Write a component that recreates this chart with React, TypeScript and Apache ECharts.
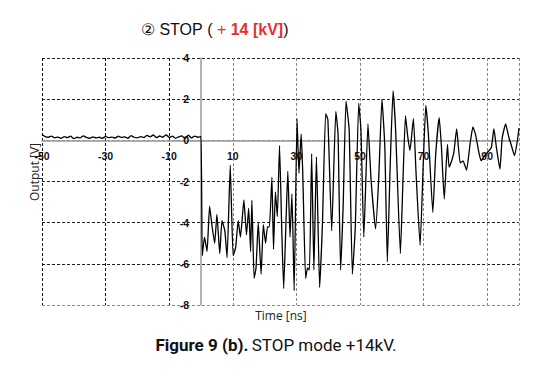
import React, { useEffect, useRef } from "react";
import * as echarts from "echarts";

// Baseline noise before the trigger, t = -50 ... 0 ns (1 ns steps)
const noiseStart = -50;
const noiseValues = [
  0.28, 0.18, 0.15, 0.2, 0.12, 0.16, 0.1, 0.18, 0.13, 0.2, 0.08, 0.15, 0.12,
  0.22, 0.14, 0.1, 0.17, 0.12, 0.15, 0.1, 0.19, 0.13, 0.16, 0.11, 0.2, 0.14,
  0.17, 0.1, 0.23, 0.15, 0.12, 0.18, 0.14, 0.24, 0.17, 0.26, 0.13, 0.21, 0.15,
  0.27, 0.14, 0.2, 0.1, 0.17, 0.22, 0.08, 0.25, 0.12, 0.2, 0.15, 0.18,
];

// Oscillation after the trigger
const burstTimes = [
  0.4, 1.1, 1.9, 2.7, 3.5, 4.3, 5.0, 5.9, 6.6, 7.5, 8.2, 9.2, 10.1, 10.9, 11.7,
  12.4, 13.5, 14.3, 15.0, 15.6, 16.0, 16.7, 17.3, 18.0, 18.9, 19.6, 20.3, 20.9,
  21.5, 22.3, 22.8, 23.4, 24.0, 24.7, 25.4, 26.0, 26.7, 27.3, 28.0, 28.6, 29.3,
  30.2, 30.8, 31.5, 32.0, 32.9, 33.5, 34.1, 34.8, 35.5, 36.3, 37.3, 38.2, 39.2,
  39.9, 41.1, 42.4, 43.1, 43.9, 44.7, 45.6, 46.6, 47.6, 48.5, 49.6, 50.3, 51.2,
  52.5, 53.5, 54.9, 55.9, 56.9, 57.8, 58.6, 59.5, 60.4, 61.2, 62.7, 63.5, 64.3,
  65.0, 65.7, 66.8, 67.6, 68.9, 69.9, 70.7, 71.5, 72.9, 73.8, 74.9, 75.6, 76.5,
  77.5, 78.0, 78.7, 79.5, 80.4, 81.5, 82.4, 83.5, 84.6, 85.5, 86.3, 87.4, 88.1,
  88.9, 90.0, 91.3, 92.1, 92.9, 94.0, 94.7, 95.8, 96.8, 97.6, 98.6, 99.5, 100.0,
];
const burstValues = [
  -5.6, -4.7, -5.4, -3.2, -4.2, -5.0, -3.6, -5.5, -3.9, -4.4, -5.7, -1.2, -5.6,
  -5.2, -3.9, -4.7, -2.9, -4.6, -3.3, -5.4, -2.9, -6.7, -6.2, -4.0, -6.5, -4.1,
  -5.0, -4.2, -4.2, -1.8, -5.3, -2.5, -3.7, -0.25, -4.4, -7.2, -4.1, -1.5, -4.7,
  -2.6, -7.3, 1.05, -1.6, 0.3, -1.6, -6.7, -6.2, -6.3, -0.65, -6.3, -0.8, -7.15,
  -4.0, 1.3, 1.0, -4.4, 1.4, 0.3, -6.3, -3.2, 1.9, 0.5, -6.5, -4.3, 1.8, 0.5,
  -4.7, 0.8, -1.95, -4.3, -1.8, 2.0, -0.3, -5.9, -1.2, 2.4, 0.5, -5.5, -2.0, 1.2,
  0.2, -0.5, 1.05, -1.5, -5.1, -1.1, 1.7, 0.3, -3.5, -0.7, 1.1, -0.3, -2.85,
  -0.2, -1.3, -1.05, -0.6, 0.55, -1.1, -1.0, -1.45, -0.2, 0.65, 0.3, -0.6, -1.0,
  -0.8, -0.6, -0.35, 0.55, -0.35, -1.4, 0.1, 0.8, 0.15, -0.25, -0.75, 0.0, 0.6,
];

const xTickLabels = [-50, -30, -10, 10, 30, 50, 70, 90];
const yTickLabels = [4, 2, 0, -2, -4, -6, -8];

const GRID = { left: 42, right: 31, top: 58, bottom: 66 };
const W = 550;
const H = 371;
const X_MIN = -50;
const X_MAX = 100;
const Y_MIN = -8;
const Y_MAX = 4;

export default function App() {
  const ref = useRef<HTMLDivElement>(null);

  useEffect(() => {
    if (!ref.current) return;
    const chart = echarts.init(ref.current, undefined, { renderer: "svg" });

    const data: [number, number][] = [];
    noiseValues.forEach((v, i) => data.push([noiseStart + i, v]));
    burstTimes.forEach((t, i) => data.push([t, burstValues[i]]));

    const plotW = W - GRID.left - GRID.right;
    const plotH = H - GRID.top - GRID.bottom;
    // move the axes so that they cross at (0, 0)
    const xAxisOffset = -plotH * ((0 - Y_MIN) / (Y_MAX - Y_MIN));
    const yAxisOffset = -plotW * ((0 - X_MIN) / (X_MAX - X_MIN));

    const xGridColors = ["#111", "#111", "#111", "#888", "#888", "#888", "#888", "#888", "#888"];

    chart.setOption({
      animation: false,
      backgroundColor: "#fff",
      grid: GRID,
      xAxis: {
        type: "value",
        position: "bottom",
        offset: xAxisOffset,
        min: X_MIN,
        max: X_MAX,
        interval: 20,
        axisLine: { onZero: false, lineStyle: { color: "#999", width: 1.5 } },
        axisTick: { show: false },
        axisLabel: {
          margin: 10,
          color: "#111",
          fontWeight: "bold",
          fontSize: 10.5,
          fontFamily: "Liberation Sans",
          formatter: (v: number) => (xTickLabels.includes(v) ? String(v) : ""),
        },
        splitLine: {
          show: true,
          lineStyle: { type: [3, 2], color: xGridColors, width: 1 },
        },
      },
      yAxis: {
        type: "value",
        position: "left",
        offset: yAxisOffset,
        min: Y_MIN,
        max: Y_MAX,
        interval: 2,
        axisLine: { onZero: false, lineStyle: { color: "#999", width: 1.5 } },
        axisTick: { show: false },
        axisLabel: {
          margin: 12,
          color: "#111",
          fontWeight: "bold",
          fontSize: 10.5,
          fontFamily: "Liberation Sans",
          formatter: (v: number) => (yTickLabels.includes(v) ? String(v) : ""),
        },
        splitLine: {
          show: true,
          lineStyle: {
            type: [3, 2],
            color: ["#888", "#222", "#222", "#222", "#888", "#222", "#222"],
            width: 1,
          },
        },
      },
      series: [
        {
          type: "line",
          data,
          showSymbol: false,
          symbol: "none",
          smooth: 0.15,
          lineStyle: { color: "#000", width: 1.3 },
        },
      ],
      graphic: [
        {
          type: "text",
          left: 141,
          top: 21,
          style: {
            rich: {
              a: { fontSize: 16, fontFamily: "Liberation Sans", fill: "#111" },
              p: { fontSize: 16, fontFamily: "Liberation Sans", fill: "#111" },
              r: { fontSize: 16, fontFamily: "Liberation Sans", fill: "#e53030" },
              b: { fontSize: 16, fontFamily: "Liberation Sans", fontWeight: "bold", fill: "#e53030" },
            },
            text: "{a|② STOP}{p| ( }{r|+ }{b|14 [kV]}{p|)}",
          },
        },
        {
          type: "text",
          x: 34,
          y: 172,
          rotation: Math.PI / 2,
          style: {
            text: "Output [V]",
            fontSize: 12,
            fontFamily: "Open Sans",
            fill: "#222",
            align: "center",
            verticalAlign: "middle",
          },
        },
        {
          type: "text",
          x: 281,
          y: 315,
          style: {
            text: "Time [ns]",
            fontSize: 12,
            fontFamily: "Open Sans",
            fill: "#222",
            align: "center",
            verticalAlign: "middle",
          },
        },
        {
          type: "text",
          x: 276,
          y: 345,
          style: {
            rich: {
              b: { fontSize: 17, fontFamily: "Roboto", fontWeight: "bold", fill: "#111" },
              n: { fontSize: 17, fontFamily: "Roboto", fill: "#111" },
            },
            text: "{b|Figure 9 (b).} {n|STOP mode +14kV.}",
            align: "center",
            verticalAlign: "middle",
          },
        },
      ],
    });

    return () => chart.dispose();
  }, []);

  return (
    <div
      ref={ref}
      style={{ position: "fixed", left: 0, top: 0, width: W, height: H }}
    />
  );
}
